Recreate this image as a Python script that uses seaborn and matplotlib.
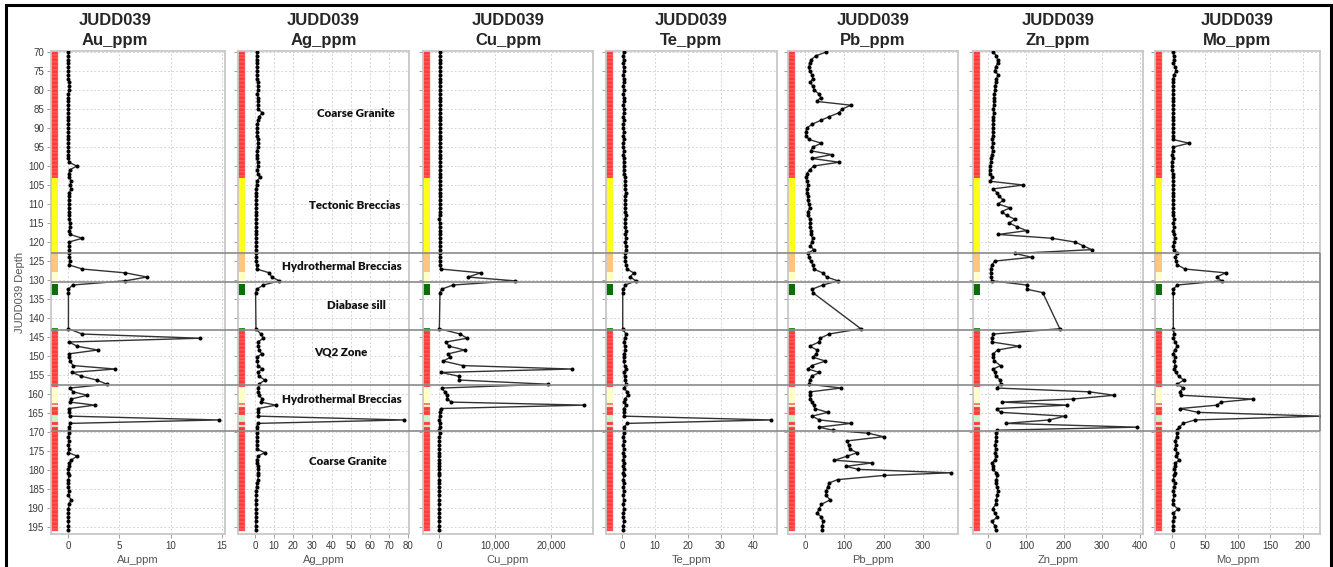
import numpy as np
import pandas as pd
import seaborn as sns
import matplotlib.pyplot as plt
from matplotlib.patches import Rectangle
from matplotlib.ticker import FuncFormatter

# sample depths (m) - one row per sample, gap through the diabase sill
DEPTH = [
    70, 71, 72, 73, 74, 75, 76, 77, 78, 79,
    80, 81, 82, 83, 84, 85, 86, 87, 88, 89,
    90, 91, 92, 93, 94, 95, 96, 97, 98, 99,
    100, 101, 102, 103, 104, 105, 106, 107, 108, 109,
    110, 111, 112, 113, 114, 115, 116, 117, 118, 119,
    120, 121, 122, 123, 124, 125, 126, 127.1, 128.1, 129.2,
    130.2, 131.3, 132.4, 133.3,
    142.8, 144.2, 145.3, 146.3, 147.4, 148.4, 149.4, 150.3, 151.3, 152.5,
    153.4, 154.3, 155.3, 156.3, 157.4, 158.4, 159.4, 160.3, 161.3, 162.1,
    162.9, 163.8, 164.8, 165.8, 166.8, 167.7, 168.7, 169.5, 170.3, 171.2,
    172.3, 173.4, 174.5, 175.4, 176.3, 177.4, 178.1, 179.0, 179.8, 180.7,
    181.4, 182.5, 183.4, 184.4, 185.4, 186.6, 187.8, 189.0, 190.2, 191.3,
    192.4, 193.5, 194.6, 195.7,
]

AU = [
    0.05, 0.05, 0.05, 0.05, 0.05, 0.05, 0.05, 0.05, 0.1, 0.15,
    0.1, 0.05, 0.05, 0.05, 0.05, 0.05, 0.05, 0.05, 0.05, 0.05,
    0.05, 0.05, 0.05, 0.05, 0.05, 0.05, 0.05, 0.05, 0.05, 0.1,
    0.85, 0.2, 0.1, 0.15, 0.3, 0.2, 0.3, 0.15, 0.1, 0.1,
    0.1, 0.1, 0.1, 0.15, 0.15, 0.2, 0.2, 0.15, 0.2, 1.4,
    0.1, 0.1, 0.15, 0.15, 0.15, 0.2, 0.1, 1.4, 5.6, 7.7,
    5.6, 0.45, 0.05, 0.05,
    0.05, 1.4, 12.9, 0.1, 0.9, 2.9, 0.1, 0.15, 0.2, 0.5,
    4.6, 0.4, 1.3, 2.8, 3.8, 0.2, 0.5, 1.9, 0.3, 0.2,
    2.6, 0.1, 0.1, 0.2, 14.7, 0.2, 0.15, 0.1, 0.1, 0.05,
    0.1, 0.05, 0.1, 0.05, 0.9, 0.3, 0.15, 0.1, 0.05, 0.05,
    0.1, 0.05, 0.05, 0.05, 0.1, 0.05, 0.3, 0.1, 0.05, 0.05,
    0.05, 0.05, 0.05, 0.05,
]

AG = [
    0.9, 1.0, 0.8, 0.9, 1.0, 1.1, 1.0, 1.2, 1.3, 1.4,
    1.5, 1.2, 1.5, 1.8, 1.3, 1.6, 3.8, 2.2, 1.8, 1.2,
    1.0, 0.9, 1.1, 1.3, 1.6, 1.4, 1.0, 1.2, 1.1, 1.3,
    1.5, 1.2, 1.4, 2.6, 0.9, 0.8, 0.7, 0.7, 0.6, 0.6,
    0.7, 0.6, 0.5, 0.6, 0.6, 0.5, 0.5, 0.6, 0.5, 0.5,
    0.6, 0.5, 0.5, 0.5, 0.6, 0.7, 0.8, 1.0, 7.5, 8.7,
    12.7, 4.4, 0.9, 0.3,
    0.5, 3.0, 4.4, 1.4, 1.8, 2.0, 3.5, 1.0, 1.2, 1.5,
    3.8, 1.4, 2.0, 5.2, 2.0, 1.7, 1.7, 2.0, 3.8, 2.9,
    11.0, 1.4, 1.5, 1.7, 78.0, 1.4, 0.9, 0.9, 0.9, 1.0,
    0.9, 1.0, 1.2, 5.2, 1.5, 1.0, 1.2, 1.3, 1.5, 1.8,
    1.7, 1.5, 1.0, 0.8, 0.7, 0.6, 0.5, 0.5, 0.6, 0.5,
    0.5, 0.4, 0.4, 0.3,
]

CU = [
    250, 200, 180, 150, 200, 180, 220, 200, 150, 180,
    200, 150, 180, 200, 250, 200, 150, 180, 150, 200,
    150, 120, 150, 130, 150, 120, 150, 180, 200, 250,
    200, 180, 150, 120, 100, 150, 120, 100, 150, 120,
    100, 150, 120, 100, 80, 120, 100, 150, 120, 180,
    150, 120, 150, 100, 120, 150, 200, 300, 7490, 5150,
    13500, 2500, 470, 175,
    60, 3800, 5000, 1230, 1800, 4560, 1640, 2050, 760, 4270,
    23700, 350, 3570, 3570, 19500, 470, 1050, 1350, 1460, 2220,
    25900, 290, 150, 100, 80, 120, 100, 80, 100, 80,
    60, 50, 60, 50, 40, 50, 40, 30, 40, 30,
    20, 30, 20, 20, 30, 20, 10, 20, 10, 20,
    10, 20, 10, 10,
]

TE = [
    0.5, 0.4, 0.5, 0.4, 0.5, 0.5, 0.4, 0.5, 0.5, 0.4,
    0.5, 0.4, 0.5, 0.5, 0.4, 0.5, 0.5, 0.4, 0.5, 0.4,
    0.4, 0.5, 0.4, 0.5, 0.4, 0.4, 0.5, 0.4, 0.5, 0.5,
    0.6, 0.5, 0.6, 0.9, 1.0, 0.9, 1.0, 1.1, 0.9, 1.0,
    1.0, 0.9, 1.0, 1.1, 1.0, 0.9, 1.0, 1.1, 1.0, 1.2,
    1.0, 1.1, 1.2, 1.0, 0.9, 1.0, 1.2, 1.5, 3.5, 2.5,
    4.2, 1.0, 0.3, 0.2,
    0.2, 1.2, 0.8, 0.6, 0.8, 1.0, 0.6, 0.6, 0.5, 0.8,
    1.2, 0.5, 0.8, 1.0, 1.2, 0.6, 1.5, 1.8, 0.8, 0.6,
    1.2, 0.5, 0.5, 0.6, 45.5, 1.6, 0.6, 0.5, 0.5, 0.4,
    0.5, 0.4, 0.5, 0.4, 0.5, 0.4, 0.5, 0.4, 0.5, 0.4,
    0.5, 0.4, 0.5, 0.4, 0.5, 0.4, 0.5, 0.4, 0.5, 0.4,
    0.4, 0.5, 0.4, 0.4,
]

PB = [
    54, 28, 16, 12, 10, 12, 18, 20, 14, 20,
    24, 35, 40, 30, 117, 95, 86, 62, 40, 18,
    5, 2, 3, 10, 42, 20, 15, 68, 17, 87,
    22, 12, 5, 4, 6, 8, 6, 5, 8, 7,
    10, 12, 8, 9, 12, 14, 12, 16, 15, 20,
    17, 14, 22, 8, 10, 15, 20, 22, 45, 55,
    84, 46, 18, 20,
    142, 61, 39, 36, 12, 31, 29, 21, 52, 17,
    8, 37, 17, 12, 10, 92, 14, 12, 14, 18,
    22, 25, 58, 18, 37, 117, 36, 71, 161, 200,
    108, 111, 114, 133, 108, 75, 171, 104, 136, 371,
    200, 83, 61, 58, 54, 53, 64, 42, 36, 31,
    42, 46, 44, 44,
]

ZN = [
    14, 22, 25, 25, 20, 18, 27, 22, 20, 19,
    18, 17, 16, 16, 15, 14, 15, 14, 13, 14,
    12, 12, 13, 11, 12, 11, 12, 10, 8, 7,
    6, 5, 4, 11, 5, 93, 14, 23, 30, 40,
    27, 58, 36, 49, 71, 56, 77, 102, 27, 168,
    229, 251, 273, 71, 115, 18, 10, 7, 7, 8,
    10, 102, 102, 144,
    189, 14, 10, 11, 82, 25, 14, 14, 17, 33,
    14, 18, 21, 32, 33, 23, 267, 332, 223, 36,
    209, 23, 33, 203, 161, 47, 393, 23, 22, 21,
    20, 19, 20, 19, 21, 18, 10, 14, 13, 22,
    24, 22, 20, 24, 26, 24, 22, 20, 12, 18,
    24, 10, 18, 20,
]

MO = [
    2, 3, 3, 2, 5, 6, 3, 2, 1, 2,
    2, 1, 2, 2, 1, 2, 2, 1, 2, 2,
    1, 1, 2, 1, 26, 2, 1, 0, 1, 0,
    0, 0, 1, 1, 2, 2, 1, 2, 2, 1,
    2, 2, 1, 2, 3, 2, 3, 2, 3, 4,
    3, 2, 3, 7, 5, 6, 8, 20, 82, 68,
    76, 8, 2, 2,
    2, 3, 2, 5, 8, 4, 2, 5, 3, 5,
    3, 6, 10, 18, 8, 17, 12, 13, 124, 75,
    69, 12, 40, 228, 35, 17, 11, 7, 8, 7,
    5, 6, 4, 8, 6, 11, 5, 4, 3, 5,
    3, 2, 4, 3, 2, 3, 2, 1, 9, 2,
    3, 1, 2, 1,
]

ELEMENTS = ['Au_ppm', 'Ag_ppm', 'Cu_ppm', 'Te_ppm', 'Pb_ppm', 'Zn_ppm', 'Mo_ppm']
XTICKS = [
    [0, 5, 10, 15],
    [0, 10, 20, 30, 40, 50, 60, 70, 80],
    [0, 10000, 20000],
    [0, 10, 20, 30, 40],
    [0, 100, 200, 300],
    [0, 100, 200, 300, 400],
    [0, 50, 100, 150, 200],
]

# lithology column (top, base, colour)
LITHO_TOP = [69.7, 103.2, 123.0, 127.8, 131.0, 142.6, 143.4, 158.0, 162.4, 162.9, 163.4, 165.4, 167.3, 168.1, 168.6]
LITHO_BASE = [103.2, 123.0, 127.8, 130.6, 133.8, 143.4, 158.0, 162.4, 162.9, 163.4, 165.4, 167.3, 168.1, 168.6, 196.0]
LITHO_COLOUR = ['#ff3b3b', '#ffff1a', '#ffc680', '#ffffcc', '#0a6e0a', '#2f8f2f', '#ff3b3b', '#ffffcc',
                '#ff7b7b', '#ffffcc', '#ff3b3b', '#c9f5c9', '#ff3b3b', '#c9f5c9', '#ff3b3b']

ZONE_BOUNDS = [123.0, 130.6, 143.2, 157.6, 169.6]
ZONE_NAMES = ['Coarse Granite', 'Tectonic Breccias', 'Hydrothermal Breccias', 'Diabase sill',
              'VQ2 Zone', 'Hydrothermal Breccias', 'Coarse Granite']
ZONE_LABEL_DEPTH = [86.1, 110.5, 126.3, 136.8, 148.9, 161.3, 177.6]
ZONE_LABEL_X = [0.69, 0.685, 0.605, 0.69, 0.60, 0.605, 0.64]

df = pd.DataFrame({'depth': DEPTH, 'Au_ppm': AU, 'Ag_ppm': AG, 'Cu_ppm': CU, 'Te_ppm': TE,
                   'Pb_ppm': PB, 'Zn_ppm': ZN, 'Mo_ppm': MO})

sns.set_style("white")
plt.rcParams['font.family'] = ['Liberation Sans', 'DejaVu Sans']

W, H = 1333, 567
TOP_PX, BOT_PX = 51, 534
PANELS_PX = [(51, 225), (238, 409), (423, 593), (606, 777), (788, 958), (973, 1143), (1155, 1320)]
XLIMS = [(-1.65, 15.3), (-8.9, 80.5), (-2860, 27500), (-4.9, 47.2), (-43, 389), (-39.5, 408), (-26, 226)]
YLIM = (196.8, 69.74)

fig = plt.figure(figsize=(13.33, 5.67), dpi=100)

for i, name in enumerate(ELEMENTS):
    x0, x1 = PANELS_PX[i]
    ax = fig.add_axes([x0 / W, 1 - BOT_PX / H, (x1 - x0) / W, (BOT_PX - TOP_PX) / H])
    ax.set_xlim(XLIMS[i])
    ax.set_ylim(YLIM)

    # lithology strip on the left edge
    for top, base, col in zip(LITHO_TOP, LITHO_BASE, LITHO_COLOUR):
        if col == '#ff3b3b':
            for t in np.arange(top, base, 1.0):
                ax.axhspan(t, min(t + 1.0, base), xmin=0, xmax=0.043, facecolor=col,
                           edgecolor='#ff8a8a', lw=0.3, zorder=1)
        else:
            ax.axhspan(top, base, xmin=0, xmax=0.043, facecolor=col, lw=0, zorder=1)

    sns.lineplot(data=df, x=name, y='depth', orient='y', sort=False, estimator=None, ax=ax,
                 color='#333333', lw=1.0, marker='o', markersize=2.9, markerfacecolor='black',
                 markeredgecolor='black', markeredgewidth=0, zorder=3, legend=False)

    ax.set_yticks(np.arange(70, 196, 5))
    ax.set_xticks(XTICKS[i])
    if name == 'Cu_ppm':
        ax.xaxis.set_major_formatter(FuncFormatter(lambda v, p: f'{v:,.0f}'))
    ax.grid(True, ls=(0, (2, 2)), color='#d6d6d6', lw=0.7, zorder=0)
    ax.set_axisbelow(True)
    ax.tick_params(axis='both', left=True, bottom=True, length=3, width=0.7, color='#a0a0a0',
                   labelsize=7, labelcolor='#3a3a3a', pad=2)
    ax.tick_params(axis='y', labelleft=(i == 0))
    for sp in ax.spines.values():
        sp.set_color('#c8c8c8')
        sp.set_linewidth(1.3)

    ax.set_xlabel(name, fontsize=8, color='#555555', labelpad=3)
    if i == 0:
        ax.set_ylabel('JUDD039 Depth', fontsize=8, color='#555555', labelpad=2)
        tx = (115 - x0) / (x1 - x0)
    else:
        ax.set_ylabel('')
        tx = 0.5
    ax.set_title('JUDD039\n' + name, fontsize=12, fontweight='bold', pad=4, x=tx, linespacing=1.45)

    if name == 'Ag_ppm':
        for lab, d, xf in zip(ZONE_NAMES, ZONE_LABEL_DEPTH, ZONE_LABEL_X):
            ax.text(xf, d, lab, transform=ax.get_yaxis_transform(), ha='center', va='center',
                    fontsize=8.3, fontweight='heavy', family=['Lato', 'DejaVu Sans'], color='#111111',
                    zorder=5)

# zone boundary lines across all panels
ov = fig.add_axes([51 / W, 1 - BOT_PX / H, (1320 - 51) / W, (BOT_PX - TOP_PX) / H], zorder=10)
ov.set_xlim(0, 1)
ov.set_ylim(YLIM)
ov.patch.set_alpha(0)
ov.axis('off')
ov.hlines(ZONE_BOUNDS, 0, 1, color='#8a8a8a', lw=1.2, clip_on=False)
ov.vlines(1, ZONE_BOUNDS[0], ZONE_BOUNDS[-1], color='#8a8a8a', lw=1.2, clip_on=False)

# outer frame
fig.add_artist(Rectangle((0.0045, -0.05), 0.994, 1.041, transform=fig.transFigure,
                         fill=False, lw=2.2, ec='black'))

fig.savefig('out.png', dpi=100)
